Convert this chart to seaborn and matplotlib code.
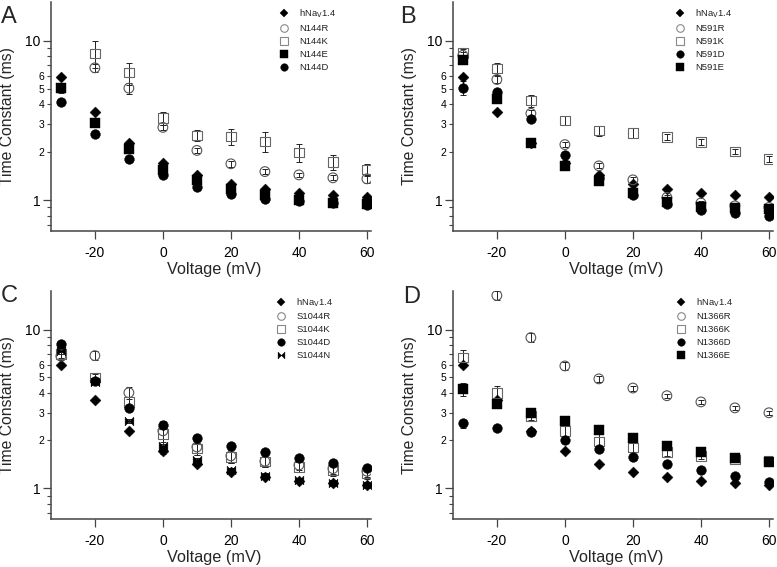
import numpy as np
import matplotlib
matplotlib.use("Agg")
import matplotlib.pyplot as plt
import seaborn as sns
from matplotlib.lines import Line2D
from matplotlib.ticker import FixedLocator, FuncFormatter

nan = np.nan
voltage = [-30, -20, -10, 0, 10, 20, 30, 40, 50, 60]

# wild type (same in all panels)
wt = [5.94, 3.59, 2.29, 1.71, 1.43, 1.26, 1.17, 1.11, 1.08, 1.05]
wt_err = [0.15, 0.08, 0.05, 0.03, 0.02, 0.02, 0.02, 0.02, 0.02, 0.02]

# Panel A
n144r = [nan, 6.76, 5.04, 2.86, 2.05, 1.69, 1.51, 1.44, 1.38, 1.36]
n144r_err = [nan, 0.35, 0.4, 0.12, 0.08, 0.07, 0.06, 0.05, 0.05, 0.08]
n144k = [nan, 8.35, 6.3, 3.28, 2.54, 2.51, 2.34, 1.99, 1.73, 1.55]
n144k_err = [nan, 1.6, 1.0, 0.3, 0.2, 0.3, 0.33, 0.25, 0.18, 0.14]
n144e = [5.06, 3.03, 2.10, 1.55, 1.33, 1.17, 1.07, 1.00, 0.96, 0.94]
n144e_err = [0.35, 0.1, 0.05, 0.04, 0.03, 0.03, 0.02, 0.02, 0.02, 0.02]
n144d = [4.11, 2.61, 1.81, 1.43, 1.21, 1.09, 1.02, 0.99, 0.96, 0.93]
n144d_err = [0.1, 0.06, 0.04, 0.03, 0.02, 0.02, 0.02, 0.02, 0.02, 0.02]

# Panel B
n591r = [8.1, 5.71, 3.5, 2.23, 1.64, 1.34, 1.04, 0.96, 0.92, 0.90]
n591r_err = [0.4, 0.3, 0.15, 0.08, 0.06, 0.05, 0.03, 0.03, 0.03, 0.03]
n591k = [8.4, 6.67, 4.21, 3.16, 2.73, 2.64, 2.49, 2.32, 2.02, 1.81]
n591k_err = [0.5, 0.6, 0.35, 0.2, 0.2, 0.2, 0.1, 0.1, 0.08, 0.08]
n591d = [5.06, 4.75, 3.23, 1.93, 1.38, 1.08, 0.95, 0.87, 0.83, 0.80]
n591d_err = [0.5, 0.2, 0.1, 0.06, 0.04, 0.03, 0.03, 0.02, 0.02, 0.02]
n591e = [7.6, 4.3, 2.28, 1.63, 1.31, 1.11, 0.98, 0.91, 0.89, 0.88]
n591e_err = [0.5, 0.2, 0.06, 0.05, 0.04, 0.03, 0.03, 0.02, 0.02, 0.02]

# Panel C
s1044r = [6.8, 6.85, 4.0, 2.3, 1.82, 1.6, 1.48, 1.4, 1.33, 1.28]
s1044r_err = [0.4, 0.45, 0.35, 0.35, 0.2, 0.15, 0.12, 0.1, 0.1, 0.1]
s1044k = [7.0, 5.0, 3.5, 2.2, 1.78, 1.57, 1.47, 1.36, 1.30, 1.25]
s1044k_err = [0.4, 0.25, 0.25, 0.3, 0.15, 0.12, 0.1, 0.1, 0.1, 0.1]
s1044d = [8.1, 4.75, 3.22, 2.52, 2.08, 1.85, 1.68, 1.56, 1.45, 1.34]
s1044d_err = [0.3, 0.15, 0.1, 0.08, 0.06, 0.05, 0.04, 0.04, 0.04, 0.04]
s1044n = [7.3, 4.7, 2.65, 1.85, 1.50, 1.30, 1.20, 1.12, 1.08, 1.05]
s1044n_err = [0.3, 0.15, 0.08, 0.2, 0.06, 0.05, 0.04, 0.04, 0.04, 0.04]

# Panel D
n1366r = [nan, 16.4, 8.9, 5.9, 4.89, 4.28, 3.83, 3.5, 3.21, 2.99]
n1366r_err = [nan, 1.0, 0.6, 0.35, 0.2, 0.15, 0.1, 0.1, 0.1, 0.08]
n1366k = [6.65, 3.98, 2.85, 2.29, 1.97, 1.80, 1.69, 1.60, 1.52, 1.49]
n1366k_err = [0.8, 0.4, 0.15, 0.25, 0.25, 0.15, 0.1, 0.08, 0.06, 0.05]
n1366d = [2.56, 2.38, 2.25, 2.00, 1.78, 1.58, 1.42, 1.30, 1.20, 1.10]
n1366d_err = [0.15, 0.08, 0.06, 0.05, 0.04, 0.04, 0.03, 0.03, 0.03, 0.03]
n1366e = [4.22, 3.41, 2.96, 2.65, 2.33, 2.06, 1.85, 1.68, 1.55, 1.47]
n1366e_err = [0.4, 0.2, 0.1, 0.08, 0.06, 0.05, 0.04, 0.04, 0.04, 0.04]

wt_label = "hNa$_\\mathrm{V}$1.4"

bowtie = [(-1, -1), (-1, 1), (0, 0), (1, 1), (1, -1), (0, 0), (-1, -1)]
STYLES = {
    "diamond": dict(marker="D", s=31, fc="black", ec="black", lw=0.3),
    "ocircle": dict(marker="o", s=49, fc="none", ec="#555555", lw=0.8),
    "osquare": dict(marker="s", s=46, fc="none", ec="#666666", lw=0.8),
    "fsquare": dict(marker="s", s=46, fc="black", ec="black", lw=0.3),
    "fcircle": dict(marker="o", s=49, fc="black", ec="black", lw=0.3),
    "bowtie": dict(marker=bowtie, s=40, fc="black", ec="black", lw=0.3),
}

panels = [
    ("A", [(wt_label, wt, wt_err, "diamond"), ("N144R", n144r, n144r_err, "ocircle"),
           ("N144K", n144k, n144k_err, "osquare"), ("N144E", n144e, n144e_err, "fsquare"),
           ("N144D", n144d, n144d_err, "fcircle")]),
    ("B", [(wt_label, wt, wt_err, "diamond"), ("N591R", n591r, n591r_err, "ocircle"),
           ("N591K", n591k, n591k_err, "osquare"), ("N591D", n591d, n591d_err, "fcircle"),
           ("N591E", n591e, n591e_err, "fsquare")]),
    ("C", [(wt_label, wt, wt_err, "diamond"), ("S1044R", s1044r, s1044r_err, "ocircle"),
           ("S1044K", s1044k, s1044k_err, "osquare"), ("S1044D", s1044d, s1044d_err, "fcircle"),
           ("S1044N", s1044n, s1044n_err, "bowtie")]),
    ("D", [(wt_label, wt, wt_err, "diamond"), ("N1366R", n1366r, n1366r_err, "ocircle"),
           ("N1366K", n1366k, n1366k_err, "osquare"), ("N1366D", n1366d, n1366d_err, "fcircle"),
           ("N1366E", n1366e, n1366e_err, "fsquare")]),
]

sns.set_theme(style="ticks")
plt.rcParams["font.family"] = ["Liberation Sans", "DejaVu Sans"]
plt.rcParams["mathtext.default"] = "regular"

W, H = 777, 567
fig = plt.figure(figsize=(W / 100, H / 100), dpi=100)

# axes boxes in pixels: left, top, right, bottom
boxes = {"A": (51, 2, 371, 231), "B": (453, 2, 773, 231),
         "C": (51, 291, 371, 519), "D": (453, 291, 773, 519)}
leg_pos = {"A": (0.712, 0.975), "B": (0.694, 0.975), "C": (0.703, 0.978), "D": (0.696, 0.978)}
letter_pos = {"A": (1, 23), "B": (400, 23), "C": (1, 302), "D": (403, 303)}

spine_col = "#444444"
for name, series in panels:
    l, t, r, b = boxes[name]
    ax = fig.add_axes([l / W, 1 - b / H, (r - l) / W, (b - t) / H])
    handles = []
    for label, vals, err, st in series:
        sty = STYLES[st]
        ax.errorbar(voltage, vals, yerr=err, fmt="none", ecolor="#222222",
                    elinewidth=0.7, capsize=2.3, capthick=0.7, zorder=2)
        sns.scatterplot(x=voltage, y=vals, ax=ax, marker=sty["marker"], s=sty["s"],
                        facecolor=sty["fc"], edgecolor=sty["ec"], linewidth=sty["lw"],
                        legend=False, zorder=3)
        ms = np.sqrt(sty["s"]) * 0.78
        hec = "#888888" if sty["fc"] == "none" else "black"
        handles.append(Line2D([], [], linestyle="none", marker=sty["marker"], markersize=ms,
                              markerfacecolor=sty["fc"], markeredgecolor=hec,
                              markeredgewidth=0.8 if sty["fc"] == "none" else 0.3, label=label))
    ax.set_yscale("log")
    ax.set_ylim(0.64, 17.5)
    ax.set_xlim(-32.9, 61.2)
    ax.set_xticks([-20, 0, 20, 40, 60])
    ax.set_xticklabels(["-20", "0", "20", "40", "60"])
    ax.yaxis.set_major_locator(FixedLocator([1, 10]))
    ax.yaxis.set_major_formatter(FuncFormatter(lambda v, p: "%d" % round(v)))
    minors = [0.7, 0.8, 0.9, 2, 3, 4, 5, 6, 7, 8, 9]
    ax.yaxis.set_minor_locator(FixedLocator(minors))
    ax.yaxis.set_minor_formatter(FuncFormatter(lambda v, p: ("%d" % round(v)) if 1.5 < v < 6.5 else ""))
    ax.tick_params(axis="both", which="major", labelsize=10, length=5.5, width=0.9,
                   color=spine_col, labelcolor="black", pad=2)
    ax.tick_params(axis="x", which="major", pad=5)
    ax.tick_params(axis="y", which="minor", labelsize=7.5, length=3, width=0.8,
                   color=spine_col, labelcolor="black", pad=2)
    ax.tick_params(axis="x", which="minor", bottom=False)
    for sp in ["top", "right"]:
        ax.spines[sp].set_visible(False)
    for sp in ["left", "bottom"]:
        ax.spines[sp].set_color(spine_col)
        ax.spines[sp].set_linewidth(1.1)
    ax.set_xlabel("Voltage (mV)", fontsize=11.7)
    ax.set_ylabel("Time Constant (ms)", fontsize=11.3)
    ax.xaxis.set_label_coords(0.51, -0.135)
    ax.yaxis.set_label_coords(-0.112, 0.5)
    leg = ax.legend(handles=handles, loc="upper left", bbox_to_anchor=leg_pos[name],
                    frameon=False, fontsize=6.8, borderpad=0, borderaxespad=0,
                    handlelength=1.1, handletextpad=1.05, labelspacing=0.42)
    for txt in leg.get_texts():
        txt.set_color("#222222")
    lx, ly = letter_pos[name]
    fig.text(lx / W, 1 - ly / H, name, fontsize=17, va="baseline", ha="left")

fig.savefig("out.png", dpi=100)
